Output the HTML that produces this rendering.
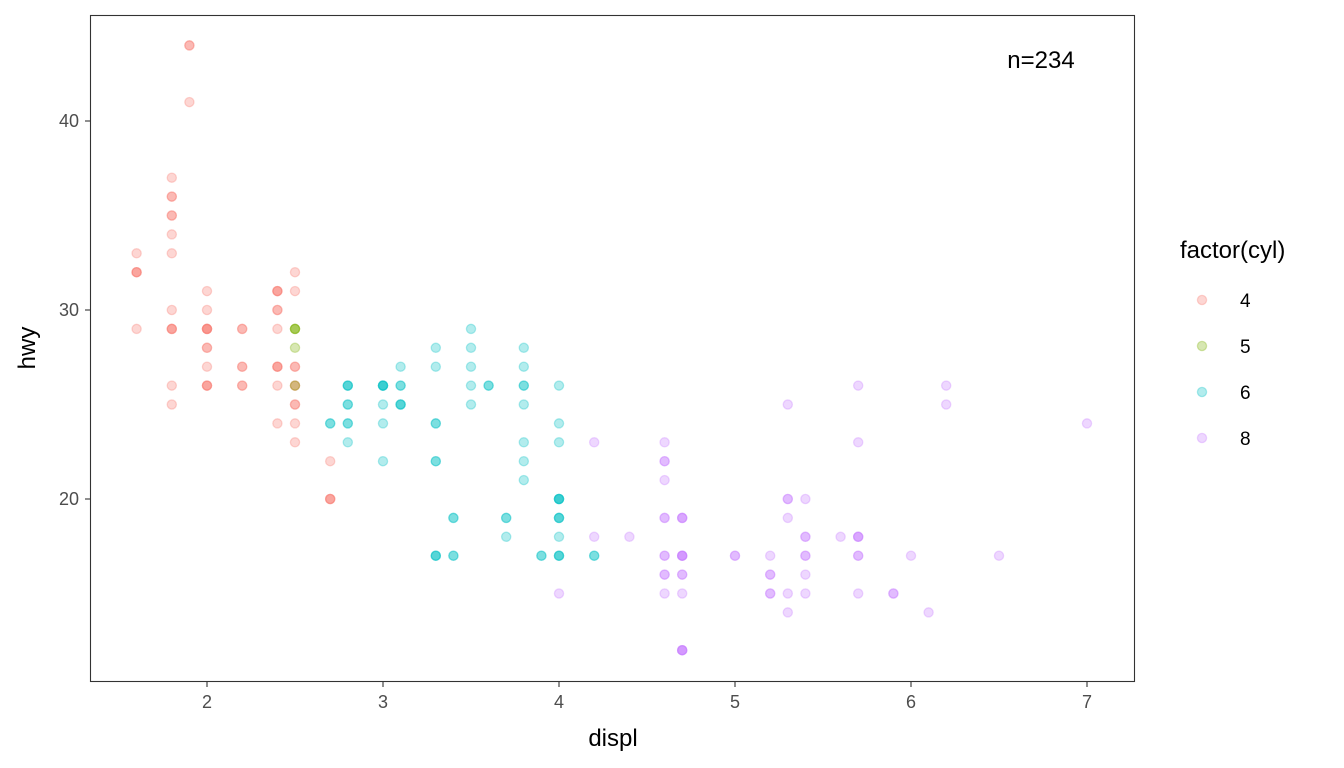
<!DOCTYPE html>
<html><head><meta charset="utf-8"><style>
html,body{margin:0;padding:0;background:#fff;}
svg{display:block;font-family:"Liberation Sans","DejaVu Sans",sans-serif;}
</style></head><body>
<svg id="chart" width="1344" height="768">
<rect x="90.5" y="15.5" width="1044" height="666" fill="#fff" stroke="#333" stroke-width="1.1"/>
<g id="points"></g>
<g id="axes"></g>
<text x="1041" y="68" font-size="24" text-anchor="middle" fill="#000">n=234</text>
<text x="613" y="746" font-size="24" text-anchor="middle" fill="#000">displ</text>
<text transform="translate(35,348) rotate(-90)" font-size="24" text-anchor="middle" fill="#000">hwy</text>
<text x="1180" y="258" font-size="24" fill="#000">factor(cyl)</text>
<g id="legend"></g>
</svg>
<script>
const cylLevels = ["4","5","6","8"];
const cylColors = ["#F8766D","#7CAE00","#00BFC4","#C77CFF"];
const xTicks = [2,3,4,5,6,7];
const yTicks = [20,30,40];
// [displ, hwy, count]
const pts4 = [[1.6,33,1],[1.6,32,3],[1.6,29,1],[1.8,37,1],[1.8,36,2],[1.8,35,2],[1.8,34,1],[1.8,33,1],[1.8,30,1],[1.8,29,3],[1.8,26,1],[1.8,25,1],[1.9,44,2],[1.9,41,1],[2.0,31,1],[2.0,30,1],[2.0,29,4],[2.0,28,2],[2.0,27,1],[2.0,26,3],[2.2,29,2],[2.2,27,2],[2.2,26,2],[2.4,31,3],[2.4,30,2],[2.4,29,1],[2.4,27,3],[2.4,26,1],[2.4,24,1],[2.5,32,1],[2.5,31,1],[2.5,27,2],[2.5,26,2],[2.5,25,2],[2.5,24,1],[2.5,23,1],[2.7,22,1],[2.7,20,3]];
const pts5 = [[2.5,29,3],[2.5,28,1],[2.5,26,1]];
const pts6 = [[2.7,24,2],[2.8,26,3],[2.8,25,2],[2.8,24,2],[2.8,23,1],[3.0,26,4],[3.0,25,1],[3.0,24,1],[3.0,22,1],[3.1,27,1],[3.1,26,2],[3.1,25,3],[3.3,28,1],[3.3,27,1],[3.3,24,2],[3.3,22,2],[3.3,17,3],[3.4,19,2],[3.4,17,2],[3.5,29,1],[3.5,28,1],[3.5,27,1],[3.5,26,1],[3.5,25,1],[3.6,26,2],[3.7,19,2],[3.7,18,1],[3.8,28,1],[3.8,27,1],[3.8,26,2],[3.8,25,1],[3.8,23,1],[3.8,22,1],[3.8,21,1],[3.9,17,2],[4.0,26,1],[4.0,24,1],[4.0,23,1],[4.0,20,4],[4.0,19,3],[4.0,18,1],[4.0,17,3],[4.2,17,2]];
const pts8 = [[4.0,15,1],[4.2,23,1],[4.2,18,1],[4.4,18,1],[4.6,23,1],[4.6,22,2],[4.6,21,1],[4.6,19,2],[4.6,17,2],[4.6,16,2],[4.6,15,1],[4.7,19,3],[4.7,17,4],[4.7,16,2],[4.7,15,1],[4.7,12,4],[5.0,17,2],[5.2,17,1],[5.2,16,2],[5.2,15,2],[5.3,25,1],[5.3,20,2],[5.3,19,1],[5.3,15,1],[5.3,14,1],[5.4,20,1],[5.4,18,2],[5.4,17,2],[5.4,16,1],[5.4,15,1],[5.6,18,1],[5.7,26,1],[5.7,23,1],[5.7,18,3],[5.7,17,2],[5.7,15,1],[5.9,15,2],[6.0,17,1],[6.1,14,1],[6.2,26,1],[6.2,25,1],[6.5,17,1],[7.0,24,1]];
const series = [pts4, pts5, pts6, pts8];

const NS = "http://www.w3.org/2000/svg";
function xs(v){ return 207 + (v - 2) * 176; }
function ys(v){ return 499 - (v - 20) * 18.9; }

function dot(parent, cx, cy, color){
  const c = document.createElementNS(NS, "circle");
  c.setAttribute("cx", cx);
  c.setAttribute("cy", cy);
  c.setAttribute("r", 4.6);
  c.setAttribute("fill", color);
  c.setAttribute("fill-opacity", 0.3);
  c.setAttribute("stroke", color);
  c.setAttribute("stroke-opacity", 0.3);
  c.setAttribute("stroke-width", 1.3);
  parent.appendChild(c);
  return c;
}

const pg = document.getElementById("points");
series.forEach((arr, si) => {
  arr.forEach(p => {
    for (let k = 0; k < p[2]; k++) {
      const c = dot(pg, xs(p[0]), ys(p[1]), cylColors[si]);
      
      
    }
  });
});

const ax = document.getElementById("axes");
xTicks.forEach(t => {
  const l = document.createElementNS(NS, "line");
  l.setAttribute("x1", xs(t)); l.setAttribute("x2", xs(t));
  l.setAttribute("y1", 682); l.setAttribute("y2", 687);
  l.setAttribute("stroke", "#333"); l.setAttribute("stroke-width", 1.1);
  
  
  ax.appendChild(l);
  const tx = document.createElementNS(NS, "text");
  tx.setAttribute("x", xs(t)); tx.setAttribute("y", 708);
  tx.setAttribute("text-anchor", "middle"); tx.setAttribute("font-size", 18);
  tx.setAttribute("fill", "#4d4d4d");
  tx.textContent = t;
  
  
  ax.appendChild(tx);
});
yTicks.forEach(t => {
  const l = document.createElementNS(NS, "line");
  l.setAttribute("x1", 85); l.setAttribute("x2", 90);
  l.setAttribute("y1", ys(t)); l.setAttribute("y2", ys(t));
  l.setAttribute("stroke", "#333"); l.setAttribute("stroke-width", 1.1);
  
  
  ax.appendChild(l);
  const tx = document.createElementNS(NS, "text");
  tx.setAttribute("x", 79); tx.setAttribute("y", ys(t) + 6);
  tx.setAttribute("text-anchor", "end"); tx.setAttribute("font-size", 18);
  tx.setAttribute("fill", "#4d4d4d");
  tx.textContent = t;
  
  
  ax.appendChild(tx);
});

const lg = document.getElementById("legend");
cylLevels.forEach((lv, i) => {
  const y = 300 + i * 46;
  const c = dot(lg, 1202, y, cylColors[i]);
  
  
  const tx = document.createElementNS(NS, "text");
  tx.setAttribute("x", 1240); tx.setAttribute("y", y + 7);
  tx.setAttribute("font-size", 19); tx.setAttribute("fill", "#000");
  tx.textContent = lv;
  
  
  lg.appendChild(tx);
});
</script>
</body></html>
